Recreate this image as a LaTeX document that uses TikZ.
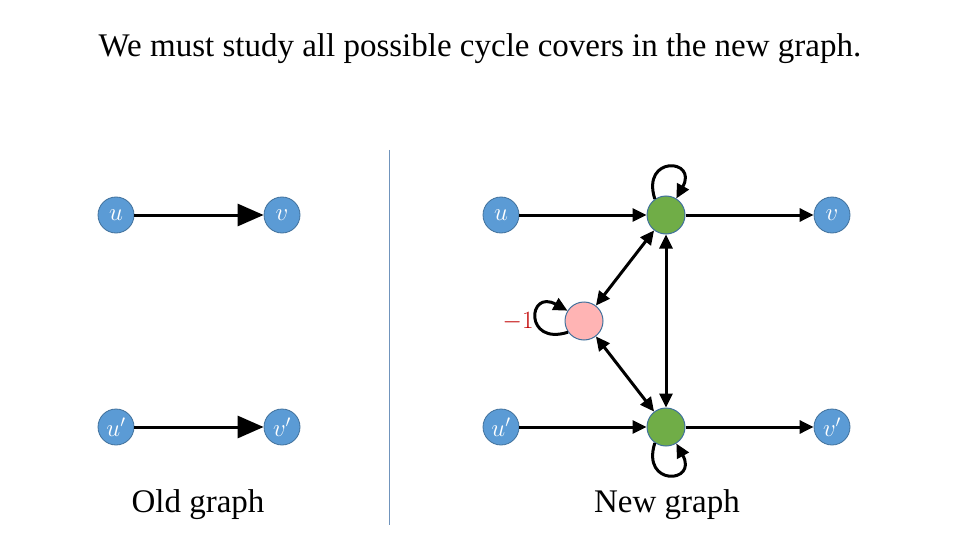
\documentclass[tikz,border=0pt]{standalone}
\usepackage{fontspec}
\setmainfont{Liberation Serif}
\usetikzlibrary{arrows.meta}
\definecolor{nodeblue}{HTML}{5B9BD5}
\definecolor{nodeborder}{HTML}{41719C}
\definecolor{nodegreen}{HTML}{70AD47}
\definecolor{nodepink}{HTML}{FFB4B4}
\definecolor{divider}{HTML}{7094BC}
\definecolor{minusred}{HTML}{C00000}
\tikzset{
  vtx/.style={circle, fill=nodeblue, draw=nodeborder, line width=0.8pt, minimum size=36pt, inner sep=0pt, text=white, font=\fontsize{24}{28}\selectfont},
  gvtx/.style={circle, fill=nodegreen, draw=nodeborder, line width=1pt, minimum size=38pt, inner sep=0pt},
  pvtx/.style={circle, fill=nodepink, draw=nodeborder, line width=1pt, minimum size=38pt, inner sep=0pt},
  bigarr/.style={line width=3pt, -{Triangle[length=26pt, width=22pt]}},
  arr/.style={line width=3pt, -{Triangle[length=14pt, width=13pt]}},
  darr/.style={line width=3pt, {Triangle[length=14pt, width=13pt]}-{Triangle[length=14pt, width=13pt]}},
  lbl/.style={font=\fontsize{33}{38}\selectfont},
}
\begin{document}
\begin{tikzpicture}[x=1pt, y=-1pt]
\useasboundingbox (0,0) rectangle (960,540);
\node[lbl] (title) at (480,49) {We must study all possible cycle covers in the new graph.};
% old graph
\node[vtx] (ou) at (116,215) {$u$};
\node[vtx] (ov) at (282,215) {$v$};
\node[vtx] (oup) at (116,427) {$u'$};
\node[vtx] (ovp) at (282,427) {$v'$};
\draw[bigarr] (ou) -- (ov);
\draw[bigarr] (oup) -- (ovp);
\node[lbl] (old) at (198,505) {Old graph};
% divider
\coordinate (dtop) at (389,150);
\coordinate (dbot) at (389,525);
\draw[divider, line width=1pt] (dtop) -- (dbot);
% new graph
\node[vtx] (nu) at (501,215) {$u$};
\node[vtx] (nv) at (832,215) {$v$};
\node[vtx] (nup) at (501,427) {$u'$};
\node[vtx] (nvp) at (832,427) {$v'$};
\node[gvtx] (g1) at (666,215) {};
\node[gvtx] (g2) at (666,427) {};
\node[pvtx] (pk) at (584,321) {};
\draw[arr] (nu) -- (g1);
\draw[arr] (g1) -- (nv);
\draw[arr] (nup) -- (g2);
\draw[arr] (g2) -- (nvp);
\draw[darr] (g1) -- (pk);
\draw[darr] (pk) -- (g2);
\draw[darr] (g1) -- (g2);
% loops
\draw[arr] (g1.125) .. controls +(-14,-44) and +(22,-40) .. (g1.58);
\draw[arr] (g2.235) .. controls +(-14,44) and +(22,40) .. (g2.302);
\draw[arr] (pk.215) .. controls +(-44,14) and +(-40,-22) .. (pk.148);
\node[text=minusred, font=\fontsize{27}{30}\selectfont, anchor=east] (m1) at (537,322) {$-1$};
\node[lbl] (new) at (667,505) {New graph};
\end{tikzpicture}
\end{document}
